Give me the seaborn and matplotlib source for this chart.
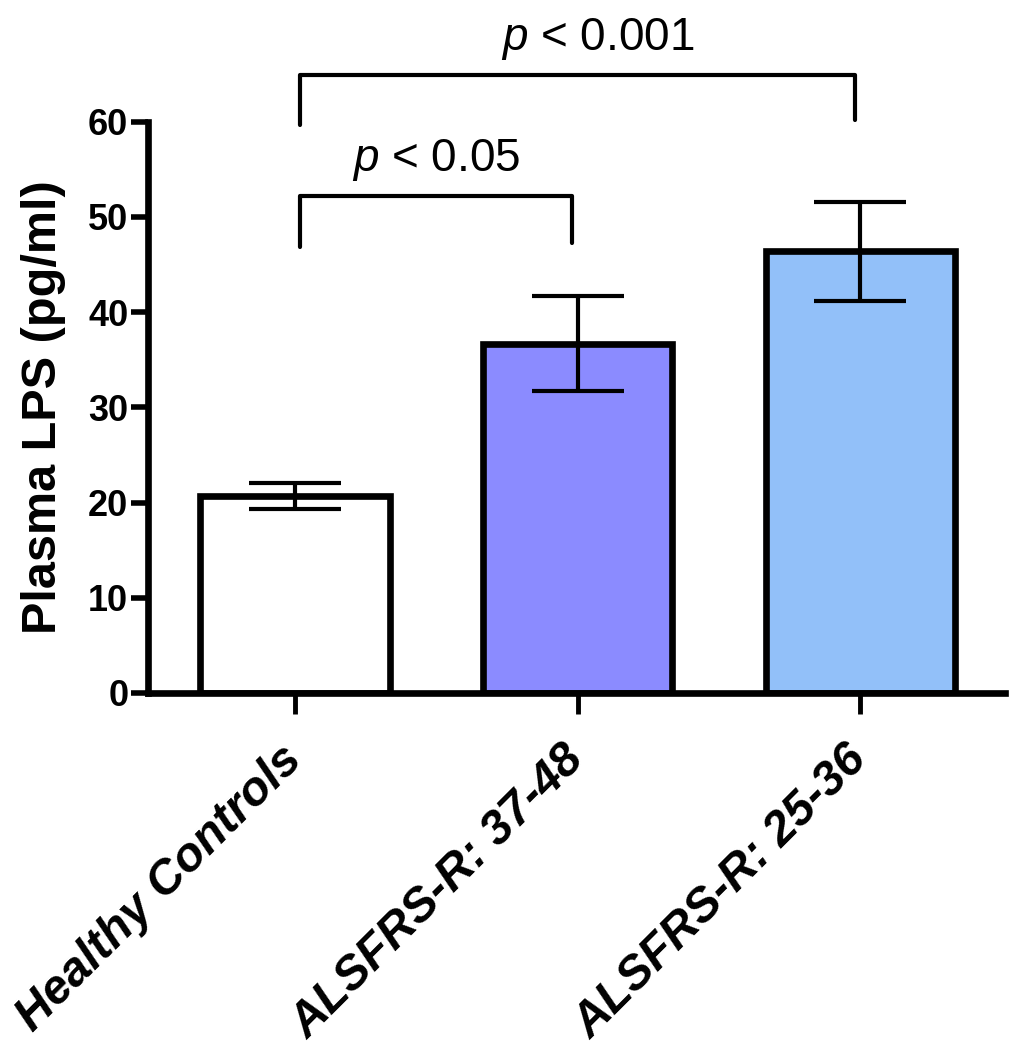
import numpy as np
import pandas as pd
import matplotlib
matplotlib.use("Agg")
import matplotlib.pyplot as plt
import seaborn as sns

groups = ["Healthy Controls", "ALSFRS-R: 37-48", "ALSFRS-R: 25-36"]
means = [20.7, 36.7, 46.4]
sem = [1.4, 5.0, 5.2]
colors = ["#ffffff", "#8b8bff", "#92c0f9"]

# significance brackets: (left group, right group, bar height, left drop, right drop, text x, label)
brackets = [(0, 1, 52.2, 46.8, 47.3, 0.5, "$\\it{p}$ < 0.05"),
            (0, 2, 64.9, 59.7, 60.2, 1.07, "$\\it{p}$ < 0.001")]

sns.set_theme(style="ticks")
plt.rcParams['font.family'] = ['Liberation Sans', 'DejaVu Sans']
plt.rcParams['mathtext.fontset'] = 'custom'
plt.rcParams['mathtext.it'] = 'Liberation Sans:italic'
plt.rcParams['mathtext.rm'] = 'Liberation Sans'
for k in ['text.color', 'axes.labelcolor', 'xtick.color', 'ytick.color', 'axes.edgecolor']:
    plt.rcParams[k] = 'black'

df = pd.DataFrame({"group": groups, "lps": means})

fig = plt.figure(figsize=(10.19, 10.5), dpi=100)
ax = fig.add_axes([0.145, 0.34, 0.841, 0.544])

sns.barplot(data=df, x="group", y="lps", hue="group", palette=colors,
            saturation=1, legend=False, errorbar=None, width=0.67,
            edgecolor="black", linewidth=4.8, ax=ax)
ax.errorbar(np.arange(len(groups)), means, yerr=sem, fmt="none",
            ecolor="black", elinewidth=3, capsize=33, capthick=3, zorder=5)

ax.set_xlim(-0.52, 2.51)
ax.set_ylim(0, 60)
ax.set_yticks(np.arange(0, 61, 10))
ax.set_xlabel("")
ax.set_ylabel("Plasma LPS (pg/ml)", fontsize=35, fontweight="bold", labelpad=16)
ax.set_xticks(range(len(groups)))
ax.set_xticklabels(groups, rotation=45, ha="right", va="center", rotation_mode="anchor",
                   fontsize=34.5, fontweight="bold", fontstyle="italic")
for t in ax.get_yticklabels():
    t.set_fontsize(26)
    t.set_fontweight("bold")
ax.tick_params(axis="y", length=12, width=4, pad=2)
ax.tick_params(axis="x", length=15, width=3.5, pad=28)

sns.despine(ax=ax)
for s in ["left", "bottom"]:
    ax.spines[s].set_linewidth(4.8)

for left, right, h, dl, dr, tx, label in brackets:
    ax.plot([left + 0.02, left + 0.02, right - 0.02, right - 0.02], [dl, h, h, dr],
            color="black", lw=3, clip_on=False)
    ax.text(tx, h + 1.4, label, ha="center", va="bottom",
            fontsize=33, clip_on=False)

fig.savefig("out.png", dpi=100)
